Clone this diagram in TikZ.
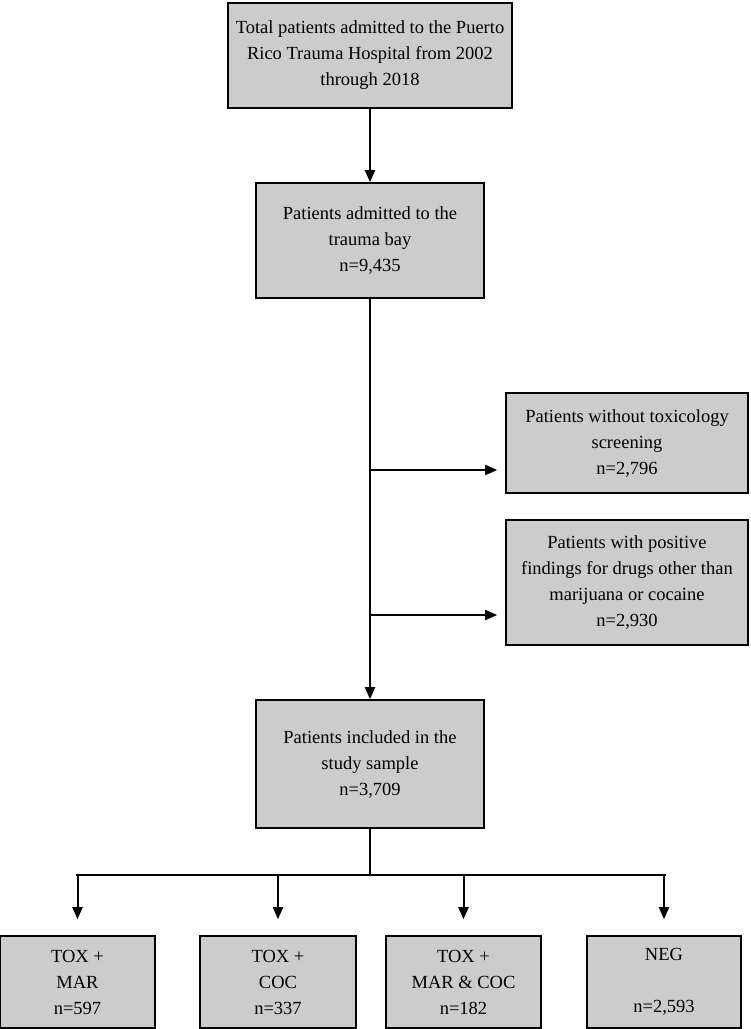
\documentclass[tikz,border=0pt]{standalone}
\usepackage{fontspec}
\setmainfont{Liberation Serif}
\usetikzlibrary{arrows.meta,positioning}
\tikzset{
	stage/.style={
		rectangle,
		draw=black,
		line width=1.6pt,
		fill=gray!40,
		align=center,
		font=\fontsize{18.5}{26}\selectfont,
		inner sep=0pt
	},
	flow/.style={
		-{Triangle[width=10pt,length=12pt]},
		line width=2pt
	}
}
\begin{document}
\begin{tikzpicture}[x=1pt,y=-1pt]
\useasboundingbox (0,0) rectangle (751,1029);
\node [stage, minimum width=284, minimum height=105] (Total) at (370,55.5) {Total patients admitted to the Puerto\\Rico Trauma Hospital from 2002\\through 2018};
\node [stage, minimum width=228, minimum height=115] (Bay) at (370,240.5) {Patients admitted to the\\trauma bay\\n=9,435};
\node [stage, minimum width=242, minimum height=100] (NoTox) at (627,443) {Patients without toxicology\\screening\\n=2,796};
\node [stage, minimum width=242, minimum height=125] (Other) at (627,582.5) {Patients with positive\\findings for drugs other than\\marijuana or cocaine\\n=2,930};
\node [stage, minimum width=228, minimum height=128] (Sample) at (370,764) {Patients included in the\\study sample\\n=3,709};
\node [stage, minimum width=155, minimum height=92] (Mar) at (77.5,982) {TOX +\\MAR\\n=597};
\node [stage, minimum width=156, minimum height=92] (Coc) at (278,982) {TOX +\\COC\\n=337};
\node [stage, minimum width=155, minimum height=92] (Both) at (463.5,982) {TOX +\\MAR \& COC\\n=182};
\node [stage, minimum width=154, minimum height=92] (Neg) at (664,982) {NEG\\\\n=2,593};
% vertical flow
\draw [flow] (Total) -- (Bay);
\draw [flow] (Bay) -- (Sample);
% exclusions
\coordinate (ExA) at (370,470);
\coordinate (ExB) at (370,615);
\draw [flow] (ExA) -- ([xshift=-8pt]ExA -| NoTox.west);
\draw [flow] (ExB) -- ([xshift=-8pt]ExB -| Other.west);
% split
\coordinate (Split) at (370,875);
\draw [line width=2pt] (Sample) -- (Split);
\draw [line width=2pt] (76,875) -- (666,875);
\foreach \g in {Mar,Coc,Both,Neg}
	\draw [flow] (\g.north |- Split) -- ([yshift=16pt]\g.north);
\end{tikzpicture}
\end{document}
